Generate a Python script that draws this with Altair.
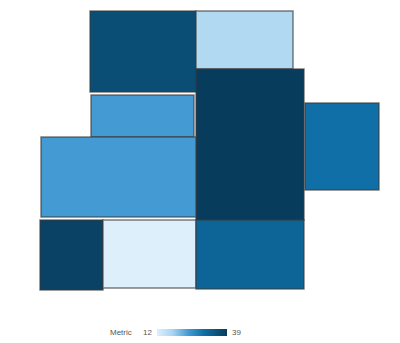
import altair as alt
import pandas as pd

# rectangle extents (in chart units) and metric values
names  = ["A", "B", "C", "D", "E", "F", "G", "H", "I"]
x0     = [90, 196, 196, 305, 91, 41, 40, 103, 196]
x1     = [196, 293, 304, 379, 194, 196, 103, 196, 304]
y0     = [11, 11, 69, 103, 95, 137, 220, 220, 220]
y1     = [92, 69, 220, 190, 137, 217, 290, 288, 289]
metric = [36, 17, 39, 30, 24, 24, 38, 12, 32]

color_stops  = [12, 18, 24, 30, 39]
color_values = ["#deeffc", "#a8d4f0", "#449bd4", "#0f6fa6", "#083c5c"]
legend_ticks = [12, 39]

df = pd.DataFrame({"name": names, "x0": x0, "x1": x1, "y0": y0, "y1": y1, "Metric": metric})

rects = alt.Chart(df).mark_rect(
    stroke="#3a3a3a", strokeWidth=1.5, strokeOpacity=0.65
).encode(
    x=alt.X("x0:Q", scale=alt.Scale(domain=[0, 400], nice=False, zero=False), axis=None),
    x2="x1:Q",
    y=alt.Y("y0:Q", scale=alt.Scale(domain=[0, 343], nice=False, zero=False, reverse=True), axis=None),
    y2="y1:Q",
    color=alt.Color(
        "Metric:Q",
        scale=alt.Scale(domain=color_stops, range=color_values, interpolate="rgb"),
        legend=alt.Legend(
            orient="none",
            legendX=110,
            legendY=329,
            direction="horizontal",
            title="Metric",
            titleOrient="left",
            titleFontSize=8,
            titleFontWeight="normal",
            titleColor="#555555",
            titleFont="Liberation Sans",
            titlePadding=25,
            titleBaseline="middle",
            gradientLength=70,
            gradientThickness=7,
            gradientStrokeWidth=0,
            values=legend_ticks,
            labelOpacity=0,
            labelExpr="''",
        ),
    ),
    tooltip=["name", "Metric"],
)

label_style = dict(fontSize=8, color="#555555", font="Liberation Sans", baseline="middle")
low_label = alt.Chart(pd.DataFrame({"t": [str(legend_ticks[0])]})).mark_text(
    align="right", **label_style
).encode(text="t:N", x=alt.value(152), y=alt.value(333))
high_label = alt.Chart(pd.DataFrame({"t": [str(legend_ticks[-1])]})).mark_text(
    align="left", **label_style
).encode(text="t:N", x=alt.value(232), y=alt.value(333))

chart = alt.layer(rects, low_label, high_label).properties(
    width=400, height=343, padding=0, autosize="none"
).configure_view(stroke=None)

chart.save("out.html", embed_options={"renderer": "svg", "actions": False})
